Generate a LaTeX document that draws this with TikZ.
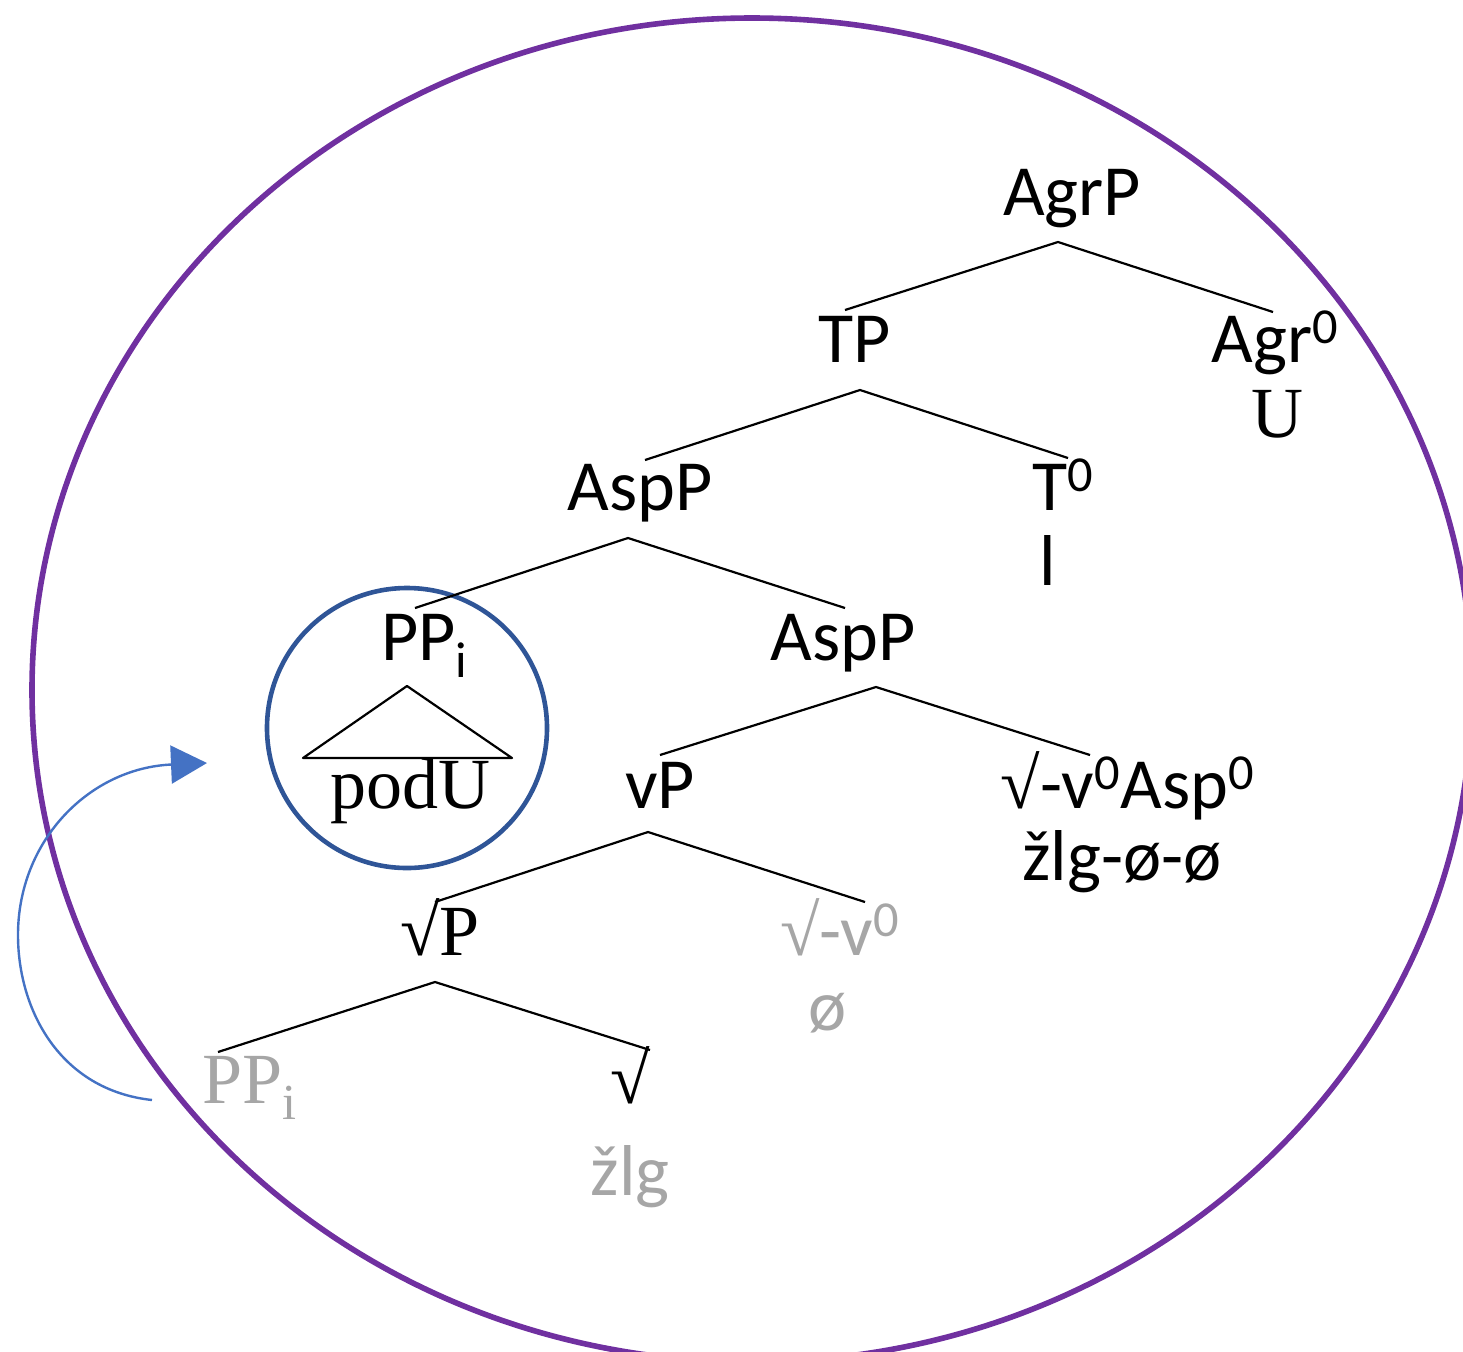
\documentclass[tikz,border=0pt]{standalone}
\usepackage{fontspec}
\setmainfont{Carlito}
\newfontfamily\serif{Liberation Serif}
\usetikzlibrary{arrows.meta}
\definecolor{ringpurple}{HTML}{7030A0}
\definecolor{ringblue}{HTML}{2F5597}
\definecolor{movblue}{HTML}{4472C4}
\definecolor{trace}{HTML}{A6A6A6}
\newcommand\rt{{\serif √}}
\newcommand\zero{\textsuperscript{0}}
\begin{document}
\begin{tikzpicture}[x=0.5pt,y=-0.5pt,
  lab/.style={anchor=base, inner sep=0pt, font=\fontsize{36}{40}\selectfont},
  slab/.style={anchor=base, inner sep=0pt, font=\serif\fontsize{36}{40}\selectfont},
  branch/.style={line width=1.1pt, line join=round},
  mover/.style={movblue, line width=1.2pt, -{Triangle[length=18pt,width=19pt]}}]
\useasboundingbox (0,0) rectangle (1463,1351);

% outer and inner rings
\draw[ringpurple, line width=2.8pt] (752,690) ellipse [x radius=720, y radius=672];
\draw[ringblue, line width=2.3pt] (407,728) circle [radius=140];

% labels
\node[lab] (agrp) at (1072,215) {AgrP};
\node[lab] (tp) at (855,362) {TP};
\node[lab] (agr0) at (1275,362) {Agr\zero};
\node[slab] (u) at (1277,437) {U};
\node[lab] (asp1) at (640,510) {AspP};
\node[lab] (t0) at (1063,510) {T\zero};
\node[lab] (l) at (1048,585) {l};
\node[lab] (ppi) at (425,660) {PP\textsubscript{i}};
\node[lab] (asp2) at (843,660) {AspP};
\node[slab] (podu) at (410,808) {podU};
\node[lab] (vp) at (660,808) {vP};
\node[lab] (head) at (1128,808) {\rt-v\zero Asp\zero};
\node[lab] (zlg1) at (1122,880) {žlg-ø-ø};
\node[slab] (rp) at (440,955) {√P};
\node[lab, text=trace] (rv) at (840,955) {\rt-v\zero};
\node[lab, text=trace] (nul) at (828,1030) {ø};
\node[slab, text=trace] (ppt) at (250,1103) {PP\textsubscript{i}};
\node[slab] (rh) at (630,1103) {√};
\node[lab, text=trace] (zlg2) at (630,1195) {žlg};

% branch points
\coordinate (agrp-b) at (1058,242);
\coordinate (tp-t) at (845,310);
\coordinate (agr0-t) at (1273,312);
\coordinate (tp-b) at (860,390);
\coordinate (asp1-t) at (645,460);
\coordinate (t0-t) at (1068,458);
\coordinate (asp1-b) at (628,538);
\coordinate (ppi-t) at (415,608);
\coordinate (asp2-t) at (845,608);
\coordinate (asp2-b) at (876,687);
\coordinate (vp-t) at (660,755);
\coordinate (head-t) at (1090,755);
\coordinate (vp-b) at (648,832);
\coordinate (rp-t) at (435,902);
\coordinate (rv-t) at (865,902);
\coordinate (rp-b) at (435,982);
\coordinate (ppt-t) at (218,1052);
\coordinate (rh-t) at (650,1050);

\draw[branch] (tp-t) -- (agrp-b) -- (agr0-t);
\draw[branch] (asp1-t) -- (tp-b) -- (t0-t);
\draw[branch] (ppi-t) -- (asp1-b) -- (asp2-t);
\draw[branch] (vp-t) -- (asp2-b) -- (head-t);
\draw[branch] (rp-t) -- (vp-b) -- (rv-t);
\draw[branch] (ppt-t) -- (rp-b) -- (rh-t);

% triangle over podU
\coordinate (tri-top) at (407,686);
\coordinate (tri-l) at (303,758);
\coordinate (tri-r) at (512,758);
\draw[branch] (tri-top) -- (tri-l) -- (tri-r) -- cycle;

% movement arrow
\coordinate (mv-start) at (152,1100);
\coordinate (mv-end) at (207,763);
\draw[mover] (mv-start) .. controls (60,1090) and (18,1010) .. (18,935)
  .. controls (18,840) and (90,768) .. (mv-end);
\end{tikzpicture}
\end{document}
